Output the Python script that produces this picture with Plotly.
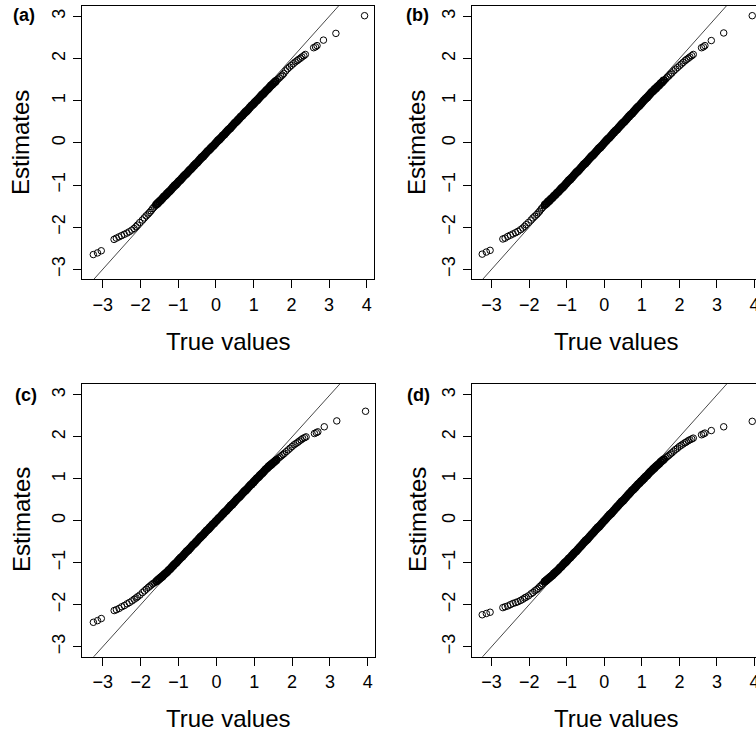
import plotly.graph_objects as go

# ---------------- data ----------------
# main set of points (true value, estimate) shared x positions for the four panels
true_values = [
    -3.25, -3.14, -3.04, -2.70, -2.64, -2.57, -2.50, -2.43, -2.36, -2.30, -2.23, -2.17, -2.12, -2.08, -2.02,
    -1.95, -1.90, -1.85, -1.80, -1.76, -1.72, -1.68, -1.64,
    -1.60, -1.56, -1.52, -1.48, -1.44, -1.40, -1.36, -1.32, -1.28, -1.24,
    -1.20, -1.16, -1.12, -1.08, -1.04, -1.00, -0.96, -0.92, -0.88, -0.84, -0.80, -0.76, -0.72, -0.68, -0.64,
    -0.60, -0.56, -0.52, -0.48, -0.44, -0.40, -0.36, -0.32, -0.28, -0.24, -0.20, -0.16, -0.12, -0.08, -0.04,
    0.00,
    0.04, 0.08, 0.12, 0.16, 0.20, 0.24, 0.28, 0.32, 0.36, 0.40, 0.44, 0.48, 0.52, 0.56, 0.60,
    0.64, 0.68, 0.72, 0.76, 0.80, 0.84, 0.88, 0.92, 0.96, 1.00, 1.04, 1.08, 1.12, 1.16, 1.20,
    1.24, 1.28, 1.32, 1.36, 1.40, 1.44, 1.48, 1.52, 1.56, 1.60,
    1.64, 1.68, 1.72, 1.76, 1.80, 1.85, 1.90, 1.95, 2.00, 2.05, 2.10, 2.15,
    2.19, 2.24, 2.28, 2.33, 2.37, 2.59, 2.64, 2.68, 2.85, 3.18, 3.94,
]

estimates_a = [
    -2.65, -2.61, -2.56, -2.29, -2.26, -2.23, -2.20, -2.17, -2.14, -2.11, -2.07, -2.03, -1.99, -1.95, -1.89,
    -1.83, -1.78, -1.73, -1.69, -1.65, -1.61, -1.56, -1.52,
    -1.48, -1.44, -1.41, -1.37, -1.34, -1.30, -1.26, -1.23, -1.19, -1.15,
    -1.12, -1.08, -1.04, -1.00, -0.97, -0.93, -0.89, -0.86, -0.82, -0.78, -0.74, -0.71, -0.67, -0.63, -0.60,
    -0.56, -0.52, -0.48, -0.45, -0.41, -0.37, -0.33, -0.30, -0.26, -0.22, -0.19, -0.15, -0.11, -0.07, -0.04,
    0.00,
    0.04, 0.07, 0.11, 0.15, 0.19, 0.22, 0.26, 0.30, 0.33, 0.37, 0.41, 0.45, 0.48, 0.52, 0.56,
    0.60, 0.63, 0.67, 0.71, 0.74, 0.78, 0.82, 0.86, 0.89, 0.93, 0.97, 1.00, 1.04, 1.08, 1.12,
    1.15, 1.19, 1.23, 1.26, 1.30, 1.34, 1.37, 1.41, 1.44, 1.48,
    1.51, 1.54, 1.58, 1.61, 1.65, 1.71, 1.76, 1.80, 1.84, 1.88, 1.92, 1.95,
    1.98, 2.01, 2.04, 2.07, 2.10, 2.26, 2.28, 2.31, 2.44, 2.60, 3.02,
]

estimates_b = [
    -2.64, -2.59, -2.55, -2.28, -2.26, -2.22, -2.19, -2.16, -2.13, -2.10, -2.06, -2.02, -1.98, -1.94, -1.89,
    -1.83, -1.78, -1.74, -1.70, -1.66, -1.62, -1.57, -1.53,
    -1.49, -1.45, -1.42, -1.38, -1.35, -1.31, -1.28, -1.24, -1.21, -1.17,
    -1.14, -1.10, -1.06, -1.03, -0.99, -0.95, -0.91, -0.87, -0.84, -0.80, -0.76, -0.72, -0.68, -0.65, -0.61,
    -0.57, -0.53, -0.49, -0.46, -0.42, -0.38, -0.34, -0.30, -0.27, -0.23, -0.19, -0.15, -0.11, -0.08, -0.04,
    0.00,
    0.04, 0.08, 0.11, 0.15, 0.19, 0.23, 0.27, 0.30, 0.34, 0.38, 0.42, 0.46, 0.49, 0.53, 0.57,
    0.61, 0.65, 0.68, 0.72, 0.76, 0.80, 0.84, 0.87, 0.91, 0.95, 0.99, 1.03, 1.06, 1.10, 1.14,
    1.18, 1.21, 1.25, 1.28, 1.32, 1.35, 1.39, 1.42, 1.46, 1.49,
    1.52, 1.56, 1.59, 1.63, 1.66, 1.71, 1.75, 1.79, 1.83, 1.87, 1.91, 1.95,
    1.98, 2.01, 2.04, 2.07, 2.10, 2.26, 2.28, 2.31, 2.43, 2.61, 3.02,
]

estimates_c = [
    -2.42, -2.38, -2.33, -2.14, -2.12, -2.09, -2.05, -2.02, -1.98, -1.95, -1.91, -1.87, -1.84, -1.81, -1.77,
    -1.71, -1.67, -1.63, -1.59, -1.56, -1.53, -1.50, -1.48,
    -1.45, -1.42, -1.39, -1.36, -1.33, -1.30, -1.27, -1.23, -1.20, -1.16,
    -1.13, -1.09, -1.05, -1.02, -0.98, -0.94, -0.90, -0.86, -0.83, -0.79, -0.75, -0.71, -0.68, -0.64, -0.60,
    -0.56, -0.53, -0.49, -0.45, -0.41, -0.38, -0.34, -0.30, -0.26, -0.23, -0.19, -0.15, -0.11, -0.08, -0.04,
    0.00,
    0.04, 0.08, 0.11, 0.15, 0.19, 0.23, 0.26, 0.30, 0.34, 0.38, 0.41, 0.45, 0.49, 0.53, 0.56,
    0.60, 0.64, 0.68, 0.71, 0.75, 0.79, 0.83, 0.86, 0.90, 0.94, 0.98, 1.02, 1.05, 1.09, 1.13,
    1.16, 1.20, 1.24, 1.27, 1.31, 1.34, 1.37, 1.40, 1.43, 1.46,
    1.49, 1.52, 1.55, 1.58, 1.61, 1.65, 1.69, 1.73, 1.77, 1.81, 1.84, 1.87,
    1.90, 1.93, 1.96, 1.98, 2.00, 2.08, 2.10, 2.12, 2.24, 2.38, 2.61,
]

estimates_d = [
    -2.24, -2.21, -2.18, -2.07, -2.05, -2.03, -2.00, -1.97, -1.95, -1.93, -1.90, -1.87, -1.84, -1.82, -1.79,
    -1.74, -1.71, -1.67, -1.64, -1.61, -1.57, -1.54, -1.50,
    -1.46, -1.43, -1.40, -1.37, -1.34, -1.31, -1.28, -1.25, -1.21, -1.18,
    -1.14, -1.10, -1.07, -1.03, -0.99, -0.96, -0.92, -0.89, -0.85, -0.81, -0.77, -0.74, -0.70, -0.66, -0.62,
    -0.58, -0.54, -0.50, -0.47, -0.43, -0.39, -0.35, -0.31, -0.27, -0.23, -0.19, -0.16, -0.12, -0.08, -0.04,
    0.00,
    0.04, 0.08, 0.12, 0.16, 0.19, 0.23, 0.27, 0.31, 0.35, 0.39, 0.43, 0.47, 0.50, 0.54, 0.58,
    0.62, 0.66, 0.70, 0.74, 0.77, 0.81, 0.85, 0.89, 0.92, 0.96, 0.99, 1.03, 1.07, 1.10, 1.14,
    1.18, 1.21, 1.25, 1.28, 1.31, 1.35, 1.38, 1.41, 1.44, 1.47,
    1.50, 1.53, 1.56, 1.59, 1.62, 1.66, 1.70, 1.73, 1.77, 1.80, 1.83, 1.86,
    1.88, 1.91, 1.93, 1.95, 1.97, 2.05, 2.07, 2.09, 2.15, 2.24, 2.37,
]

# extra points of the dense central band (between the ones above)
true_values_core = [
    -1.58, -1.54, -1.50, -1.46, -1.42, -1.38, -1.34, -1.30, -1.26, -1.22,
    -1.18, -1.14, -1.10, -1.06, -1.02, -0.98, -0.94, -0.90, -0.86, -0.82,
    -0.78, -0.74, -0.70, -0.66, -0.62, -0.58, -0.54, -0.50, -0.46, -0.42,
    -0.38, -0.34, -0.30, -0.26, -0.22, -0.18, -0.14, -0.10, -0.06, -0.02,
    0.02, 0.06, 0.10, 0.14, 0.18, 0.22, 0.26, 0.30, 0.34, 0.38,
    0.42, 0.46, 0.50, 0.54, 0.58, 0.62, 0.66, 0.70, 0.74, 0.78,
    0.82, 0.86, 0.90, 0.94, 0.98, 1.02, 1.06, 1.10, 1.14, 1.18,
    1.22, 1.26, 1.30, 1.34, 1.38, 1.42, 1.46, 1.50, 1.54, 1.58,
]

estimates_core_a = [
    -1.46, -1.43, -1.39, -1.36, -1.32, -1.28, -1.25, -1.21, -1.17, -1.14,
    -1.10, -1.06, -1.02, -0.99, -0.95, -0.91, -0.88, -0.84, -0.80, -0.76,
    -0.73, -0.69, -0.65, -0.62, -0.58, -0.54, -0.50, -0.47, -0.43, -0.39,
    -0.35, -0.32, -0.28, -0.24, -0.20, -0.17, -0.13, -0.09, -0.06, -0.02,
    0.02, 0.06, 0.09, 0.13, 0.17, 0.20, 0.24, 0.28, 0.32, 0.35,
    0.39, 0.43, 0.47, 0.50, 0.54, 0.58, 0.62, 0.65, 0.69, 0.73,
    0.76, 0.80, 0.84, 0.88, 0.91, 0.95, 0.99, 1.02, 1.06, 1.10,
    1.14, 1.17, 1.21, 1.25, 1.28, 1.32, 1.36, 1.39, 1.43, 1.46,
]

estimates_core_b = [
    -1.47, -1.44, -1.40, -1.37, -1.33, -1.30, -1.26, -1.23, -1.19, -1.16,
    -1.12, -1.08, -1.05, -1.01, -0.97, -0.93, -0.89, -0.86, -0.82, -0.78,
    -0.74, -0.70, -0.67, -0.63, -0.59, -0.55, -0.51, -0.48, -0.44, -0.40,
    -0.36, -0.32, -0.29, -0.25, -0.21, -0.17, -0.13, -0.10, -0.06, -0.02,
    0.02, 0.06, 0.10, 0.13, 0.17, 0.21, 0.25, 0.29, 0.32, 0.36,
    0.40, 0.44, 0.48, 0.51, 0.55, 0.59, 0.63, 0.67, 0.70, 0.74,
    0.78, 0.82, 0.86, 0.89, 0.93, 0.97, 1.01, 1.05, 1.08, 1.12,
    1.16, 1.20, 1.23, 1.27, 1.30, 1.34, 1.37, 1.41, 1.44, 1.48,
]

estimates_core_c = [
    -1.44, -1.41, -1.38, -1.35, -1.32, -1.28, -1.25, -1.22, -1.18, -1.15,
    -1.11, -1.07, -1.03, -1.00, -0.96, -0.92, -0.88, -0.85, -0.81, -0.77,
    -0.73, -0.70, -0.66, -0.62, -0.58, -0.55, -0.51, -0.47, -0.43, -0.39,
    -0.36, -0.32, -0.28, -0.24, -0.21, -0.17, -0.13, -0.09, -0.06, -0.02,
    0.02, 0.06, 0.09, 0.13, 0.17, 0.21, 0.24, 0.28, 0.32, 0.36,
    0.39, 0.43, 0.47, 0.51, 0.55, 0.58, 0.62, 0.66, 0.70, 0.73,
    0.77, 0.81, 0.85, 0.88, 0.92, 0.96, 1.00, 1.03, 1.07, 1.11,
    1.14, 1.18, 1.22, 1.25, 1.29, 1.32, 1.35, 1.38, 1.41, 1.44,
]

estimates_core_d = [
    -1.45, -1.42, -1.39, -1.36, -1.33, -1.30, -1.26, -1.23, -1.20, -1.16,
    -1.12, -1.09, -1.05, -1.01, -0.98, -0.94, -0.90, -0.87, -0.83, -0.79,
    -0.75, -0.72, -0.68, -0.64, -0.60, -0.56, -0.52, -0.48, -0.45, -0.41,
    -0.37, -0.33, -0.29, -0.25, -0.21, -0.17, -0.14, -0.10, -0.06, -0.02,
    0.02, 0.06, 0.10, 0.14, 0.17, 0.21, 0.25, 0.29, 0.33, 0.37,
    0.41, 0.45, 0.48, 0.52, 0.56, 0.60, 0.64, 0.68, 0.72, 0.75,
    0.79, 0.83, 0.87, 0.90, 0.94, 0.97, 1.01, 1.05, 1.08, 1.12,
    1.16, 1.19, 1.23, 1.26, 1.30, 1.33, 1.36, 1.40, 1.43, 1.46,
]

x_ticks = [-3, -2, -1, 0, 1, 2, 3, 4]
y_ticks = [-3, -2, -1, 0, 1, 2, 3]
panel_labels = ["(a)", "(b)", "(c)", "(d)"]
identity_line = [-4, 5]   # y = x reference line
x_title = "True values"
y_title = "Estimates"

# ---------------- layout geometry ----------------
W, H = 756, 734
FONT = "Liberation Sans, Arial, Helvetica, sans-serif"

# left px, right px, top px, bottom px, x-range, y-range, draw right border
panels = [
    (82, 374, 6, 279, [-3.55, 4.19], [-3.23, 3.25], True),
    (471.7, 756, 6, 279, [-3.53, 4.04], [-3.23, 3.25], False),
    (82, 375, 384, 656.7, [-3.55, 4.19], [-3.24, 3.26], True),
    (471.7, 756, 384, 656.7, [-3.53, 4.04], [-3.24, 3.26], False),
]
series = [estimates_a, estimates_b, estimates_c, estimates_d]
series_core = [estimates_core_a, estimates_core_b, estimates_core_c, estimates_core_d]
label_pos = [(24, 15), (417, 15), (26, 395), (418, 395)]
ytitle_pos = [(21, 143), (417, 143), (21, 520), (417, 520)]
xtitle_pos = [(228, 341), (616, 341), (228, 718), (616, 718)]

marker_style = dict(symbol="circle-open", size=6.5, color="black", line=dict(width=1))
core_marker_style = dict(symbol="circle-open", size=6.5, color="black", line=dict(width=1.6))

fig = go.Figure()
annotations = []
for i, (l, r, t, b, xr, yr, right) in enumerate(panels):
    n = "" if i == 0 else str(i + 1)
    fig.add_trace(go.Scatter(
        x=identity_line, y=identity_line, mode="lines",
        line=dict(color="#333333", width=0.9),
        xaxis="x" + n, yaxis="y" + n, showlegend=False, hoverinfo="skip"))
    fig.add_trace(go.Scatter(
        x=true_values, y=series[i], mode="markers", marker=marker_style,
        xaxis="x" + n, yaxis="y" + n, showlegend=False))
    fig.add_trace(go.Scatter(
        x=true_values_core, y=series_core[i], mode="markers", marker=core_marker_style,
        xaxis="x" + n, yaxis="y" + n, showlegend=False))
    common = dict(showline=True, linecolor="black", linewidth=1, ticks="outside",
                  ticklen=8, tickwidth=1, tickcolor="black", showgrid=False,
                  zeroline=False, automargin=False,
                  tickfont=dict(family=FONT, size=18, color="black"))
    fig.layout["xaxis" + n] = dict(
        domain=[l / W, r / W], range=xr, anchor="y" + n, mirror=True,
        tickvals=x_ticks, ticklabelstandoff=1, ticklabeloverflow="allow", **common)
    fig.layout["yaxis" + n] = dict(
        domain=[1 - b / H, 1 - t / H], range=yr, anchor="x" + n, mirror=right,
        tickvals=y_ticks, tickangle=-90, ticklabelstandoff=1, **common)

    lx, ly = label_pos[i]
    annotations.append(dict(text="<b>" + panel_labels[i] + "</b>", x=lx / W, y=1 - ly / H,
                            xref="paper", yref="paper", showarrow=False,
                            xanchor="center", yanchor="middle",
                            font=dict(family=FONT, size=18, color="black")))
    tx, ty = ytitle_pos[i]
    annotations.append(dict(text=y_title, x=tx / W, y=1 - ty / H, textangle=-90,
                            xref="paper", yref="paper", showarrow=False,
                            xanchor="center", yanchor="middle",
                            font=dict(family=FONT, size=24, color="black")))
    tx, ty = xtitle_pos[i]
    annotations.append(dict(text=x_title, x=tx / W, y=1 - ty / H,
                            xref="paper", yref="paper", showarrow=False,
                            xanchor="center", yanchor="middle",
                            font=dict(family=FONT, size=24, color="black")))

fig.update_layout(width=W, height=H, margin=dict(l=0, r=0, t=0, b=0),
                  paper_bgcolor="white", plot_bgcolor="white",
                  annotations=annotations, showlegend=False)

fig.write_html("out.html", config={"displayModeBar": False},
               post_script="document.body.style.margin='0';document.body.style.overflow='hidden';")
